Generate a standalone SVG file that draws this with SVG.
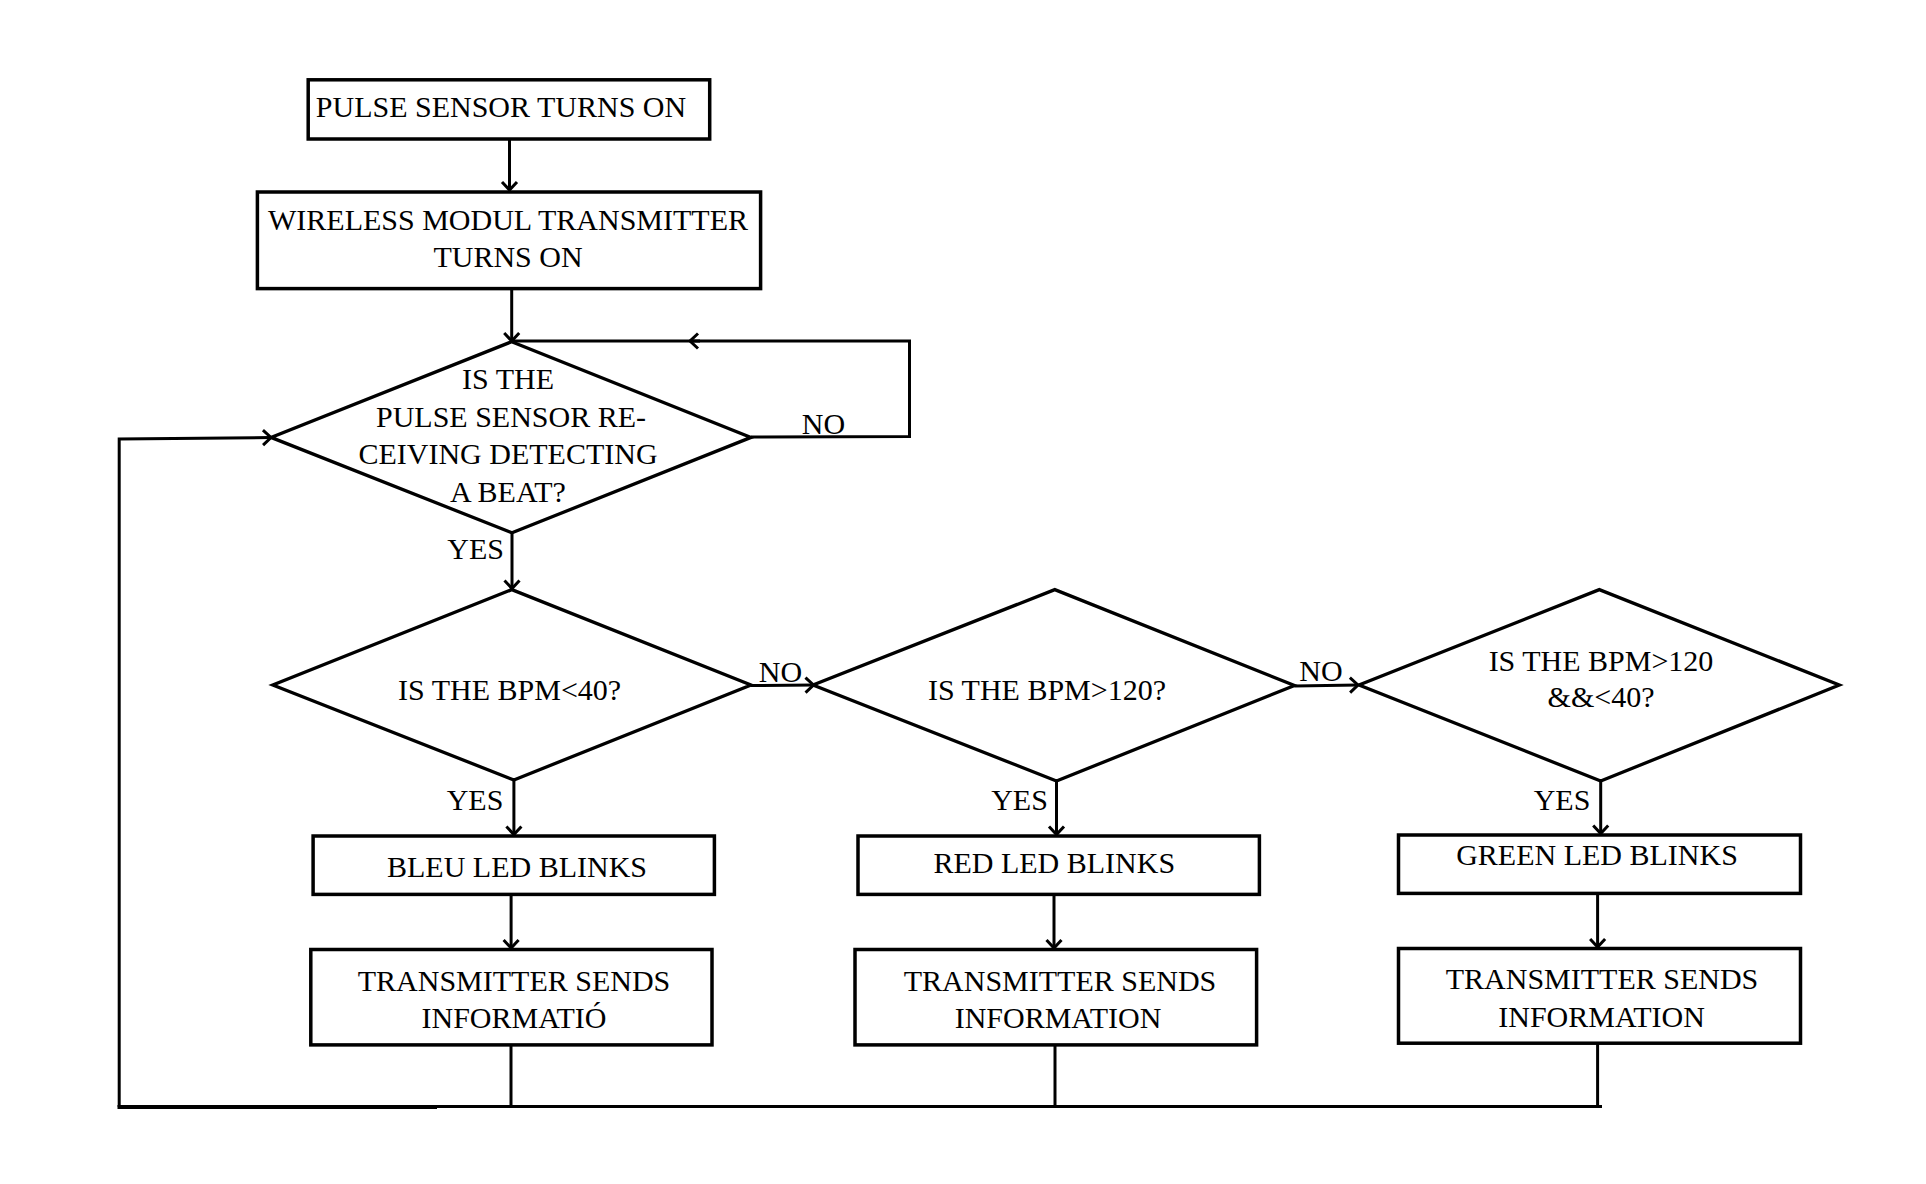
<svg xmlns="http://www.w3.org/2000/svg" width="1926" height="1184" viewBox="0 0 1926 1184">
<style>
.box{fill:#fff;stroke:#000;stroke-width:3.5}
.dia{fill:#fff;stroke:#000;stroke-width:3.3;stroke-linejoin:miter}
.c{fill:none;stroke:#000;stroke-width:3}
.t{font-family:"Liberation Serif","Times New Roman",serif;font-size:30px;fill:#000;text-anchor:middle}
</style>
<defs>
<marker id="ah" viewBox="-10 -10 20 20" refX="0" refY="0" markerWidth="20" markerHeight="20" markerUnits="userSpaceOnUse" orient="auto">
<path d="M-8,-7.5 L0,0 L-8,7.5" fill="none" stroke="#000" stroke-width="3"/>
</marker>
</defs>
<rect width="1926" height="1184" fill="#fff"/>

<g id="connectors">
<line class="c" x1="509.5" y1="139" x2="509.5" y2="190" marker-end="url(#ah)"/>
<line class="c" x1="511.7" y1="289" x2="511.7" y2="341" marker-end="url(#ah)"/>
<polyline class="c" points="751,437 909.5,436.5 909.5,341 690,341"/>
<line class="c" x1="700" y1="341" x2="690" y2="341" marker-end="url(#ah)"/>
<line class="c" x1="690" y1="341" x2="512" y2="341"/>
<line class="c" x1="512" y1="533" x2="512" y2="588.5" marker-end="url(#ah)"/>
<line class="c" x1="751" y1="685.5" x2="813.5" y2="685" marker-end="url(#ah)"/>
<line class="c" x1="1294.5" y1="686" x2="1358" y2="685" marker-end="url(#ah)"/>
<line class="c" x1="513.9" y1="780" x2="513.9" y2="834.5" marker-end="url(#ah)"/>
<line class="c" x1="1056.5" y1="781" x2="1056.5" y2="834.5" marker-end="url(#ah)"/>
<line class="c" x1="1600.7" y1="781" x2="1600.7" y2="833.5" marker-end="url(#ah)"/>
<line class="c" x1="511.1" y1="894.5" x2="511.1" y2="948" marker-end="url(#ah)"/>
<line class="c" x1="1054" y1="894.5" x2="1054" y2="948" marker-end="url(#ah)"/>
<line class="c" x1="1597.6" y1="893.5" x2="1597.6" y2="947" marker-end="url(#ah)"/>
<line class="c" x1="511" y1="1045" x2="511" y2="1106.5"/>
<line class="c" x1="1055" y1="1045" x2="1055" y2="1106.5"/>
<line class="c" x1="1597.6" y1="1043.5" x2="1597.6" y2="1106.5"/>
<line x1="117.5" y1="1107" x2="437" y2="1107" stroke="#000" stroke-width="4"/>
<line class="c" x1="437" y1="1106.5" x2="1602" y2="1106.5"/>
<polyline class="c" points="119.2,1107 119.2,439 271,437.5" marker-end="url(#ah)"/>
</g>

<g id="n1">
<rect class="box" x="308.2" y="79.8" width="401.5" height="59.2"/>
<text class="t" x="501" y="117">PULSE SENSOR TURNS ON</text>
</g>
<g id="n2">
<rect class="box" x="257.4" y="192" width="503.2" height="96.6"/>
<text class="t" x="508" y="230">WIRELESS MODUL TRANSMITTER</text>
<text class="t" x="508" y="266.6">TURNS ON</text>
</g>
<g id="d1">
<polygon class="dia" points="511.7,341.7 751,437.4 512,532.8 271,437.4"/>
<text class="t" x="508" y="389">IS THE</text>
<text class="t" x="511" y="427">PULSE SENSOR RE-</text>
<text class="t" x="508" y="463.6">CEIVING DETECTING</text>
<text class="t" x="508" y="501.5">A BEAT?</text>
</g>
<g id="d2">
<polygon class="dia" points="511.8,589.6 751,685 513.9,780 272.8,685"/>
<text class="t" x="509.6" y="700">IS THE BPM&lt;40?</text>
</g>
<g id="d3">
<polygon class="dia" points="1054.8,589.6 1294.5,685.5 1056.5,781 813,685"/>
<text class="t" x="1047" y="699.5">IS THE BPM&gt;120?</text>
</g>
<g id="d4">
<polygon class="dia" points="1599.3,589.6 1839.3,685 1600.7,781 1359,685"/>
<text class="t" x="1601" y="671.3">IS THE BPM&gt;120</text>
<text class="t" x="1601" y="707.4">&amp;&amp;&lt;40?</text>
</g>
<g id="b1">
<rect class="box" x="313.1" y="836" width="401.3" height="58.4"/>
<text class="t" x="517" y="876.8">BLEU LED BLINKS</text>
</g>
<g id="b2">
<rect class="box" x="858" y="836" width="401.4" height="58.4"/>
<text class="t" x="1054.3" y="872.7">RED LED BLINKS</text>
</g>
<g id="b3">
<rect class="box" x="1398.5" y="835" width="402" height="58.4"/>
<text class="t" x="1597" y="865">GREEN LED BLINKS</text>
</g>
<g id="s1">
<rect class="box" x="310.8" y="949.5" width="401.2" height="95.4"/>
<text class="t" x="514" y="990.5">TRANSMITTER SENDS</text>
<text class="t" x="514" y="1027.7">INFORMATIÓ</text>
</g>
<g id="s2">
<rect class="box" x="855" y="949.5" width="401.6" height="95.4"/>
<text class="t" x="1060" y="990.5">TRANSMITTER SENDS</text>
<text class="t" x="1058" y="1027.7">INFORMATION</text>
</g>
<g id="s3">
<rect class="box" x="1398.5" y="948.5" width="402" height="94.7"/>
<text class="t" x="1602" y="989">TRANSMITTER SENDS</text>
<text class="t" x="1601.6" y="1026.6">INFORMATION</text>
</g>
<g id="labels">
<text class="t" x="823.5" y="434">NO</text>
<text class="t" x="475.7" y="559">YES</text>
<text class="t" x="780.4" y="681.5">NO</text>
<text class="t" x="1321" y="681">NO</text>
<text class="t" x="475" y="810">YES</text>
<text class="t" x="1019.5" y="810">YES</text>
<text class="t" x="1562" y="810">YES</text>
</g>
</svg>
